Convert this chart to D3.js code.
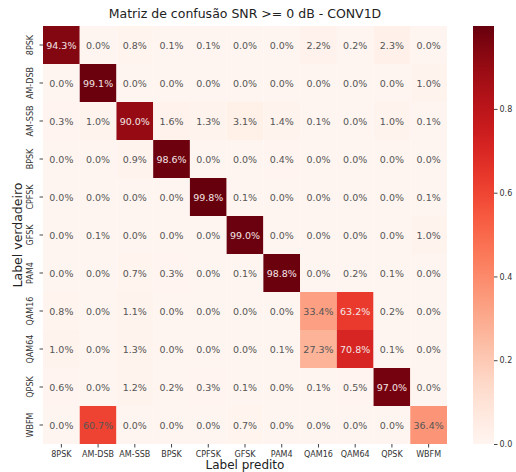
<!DOCTYPE html>
<html><head><meta charset="utf-8">
<script src="https://cdn.jsdelivr.net/npm/d3@7"></script>
<style>body{margin:0;background:#fff}svg{display:block;font-family:"DejaVu Sans",sans-serif}</style>
</head><body><div id="chart"></div>
<script>
const title = "Matriz de confusão SNR >= 0 dB - CONV1D";
const classes = ["8PSK","AM-DSB","AM-SSB","BPSK","CPFSK","GFSK","PAM4","QAM16","QAM64","QPSK","WBFM"];
const row8PSK  = [94.3,0.0,0.8,0.1,0.1,0.0,0.0,2.2,0.2,2.3,0.0];
const rowAMDSB = [0.0,99.1,0.0,0.0,0.0,0.0,0.0,0.0,0.0,0.0,1.0];
const rowAMSSB = [0.3,1.0,90.0,1.6,1.3,3.1,1.4,0.1,0.0,1.0,0.1];
const rowBPSK  = [0.0,0.0,0.9,98.6,0.0,0.0,0.4,0.0,0.0,0.0,0.0];
const rowCPFSK = [0.0,0.0,0.0,0.0,99.8,0.1,0.0,0.0,0.0,0.0,0.1];
const rowGFSK  = [0.0,0.1,0.0,0.0,0.0,99.0,0.0,0.0,0.0,0.0,1.0];
const rowPAM4  = [0.0,0.0,0.7,0.3,0.0,0.1,98.8,0.0,0.2,0.1,0.0];
const rowQAM16 = [0.8,0.0,1.1,0.0,0.0,0.0,0.0,33.4,63.2,0.2,0.0];
const rowQAM64 = [1.0,0.0,1.3,0.0,0.0,0.0,0.1,27.3,70.8,0.1,0.0];
const rowQPSK  = [0.6,0.0,1.2,0.2,0.3,0.1,0.0,0.1,0.5,97.0,0.0];
const rowWBFM  = [0.0,60.7,0.0,0.0,0.0,0.7,0.0,0.0,0.0,0.0,36.4];
const matrix = [row8PSK,rowAMDSB,rowAMSSB,rowBPSK,rowCPFSK,rowGFSK,rowPAM4,rowQAM16,rowQAM64,rowQPSK,rowWBFM];
const cbTicks = [0.0,0.2,0.4,0.6,0.8];
const xLabel = "Label predito", yLabel = "Label verdadeiro";

(function(){
const W = 516, H = 472;
const svg = d3.select("#chart").append("svg").attr("width", W).attr("height", H);
const mL = 43, mR = 447, mT = 26, mB = 444;
const x = d3.scaleBand().domain(classes).range([mL, mR]);
const y = d3.scaleBand().domain(classes).range([mT, mB]);
const vmax = d3.max(matrix.flat()) / 100;
const color = d3.scaleSequential(d3.interpolateReds).domain([0, vmax]);

const cells = [];
matrix.forEach((row, i) => row.forEach((v, j) => cells.push({r: classes[i], c: classes[j], v})));

svg.append("g").selectAll("rect").data(cells).join("rect")
  .attr("x", d => x(d.c)).attr("y", d => y(d.r))
  .attr("width", x.bandwidth()).attr("height", y.bandwidth())
  .attr("fill", d => color(d.v / 100));

svg.append("g").selectAll("text").data(cells).join("text")
  .attr("x", d => x(d.c) + x.bandwidth() / 2)
  .attr("y", d => y(d.r) + y.bandwidth() / 2)
  .attr("text-anchor", "middle").attr("dominant-baseline", "central")
  .attr("font-size", 9.5)
  .attr("fill", d => {
    const c = d3.rgb(color(d.v / 100));
    const lum = (0.299 * c.r + 0.587 * c.g + 0.114 * c.b) / 255;
    return lum < 0.45 ? "#f5e6e6" : "#555";
  })
  .text(d => d.v.toFixed(1) + "%");

const xAxis = svg.append("g").attr("transform", `translate(0,${mB})`)
  .call(d3.axisBottom(x).tickSize(3.5).tickPadding(4));
xAxis.select(".domain").remove();
xAxis.selectAll("line").attr("stroke", "#444");
xAxis.selectAll("text").attr("font-size", 8).attr("fill", "#333").attr("font-family", "DejaVu Sans");

const yAxis = svg.append("g").attr("transform", `translate(${mL},0)`)
  .call(d3.axisLeft(y).tickSize(3.5).tickPadding(0));
yAxis.select(".domain").remove();
yAxis.selectAll("line").attr("stroke", "#444");
yAxis.selectAll("text").attr("font-size", 8).attr("fill", "#333").attr("font-family", "DejaVu Sans")
  .attr("text-anchor", "middle").attr("dy", null)
  .attr("x", 0).attr("y", 0).attr("dominant-baseline", "central")
  .attr("transform", "translate(-13,0) rotate(-90)");

svg.append("text").attr("x", (mL + mR) / 2).attr("y", 18)
  .attr("text-anchor", "middle").attr("font-size", 12.5).attr("fill", "#222").text(title);
svg.append("text").attr("x", (mL + mR) / 2).attr("y", 469)
  .attr("text-anchor", "middle").attr("font-size", 12).attr("fill", "#222").text(xLabel);
svg.append("text").attr("transform", `translate(22,${(mT + mB) / 2}) rotate(-90)`)
  .attr("text-anchor", "middle").attr("font-size", 12.5).attr("fill", "#222").text(yLabel);

const cbX = 473, cbW = 21;
const cbScale = d3.scaleLinear().domain([0, vmax]).range([mB, mT]);
const defs = svg.append("defs");
const grad = defs.append("linearGradient").attr("id", "cb").attr("x1", 0).attr("y1", 1).attr("x2", 0).attr("y2", 0);
d3.range(0, 1.0001, 0.05).forEach(t => grad.append("stop").attr("offset", t).attr("stop-color", color(t * vmax)));
svg.append("rect").attr("x", cbX).attr("y", mT).attr("width", cbW).attr("height", mB - mT).attr("fill", "url(#cb)");
const cbAxis = svg.append("g").attr("transform", `translate(${cbX + cbW},0)`)
  .call(d3.axisRight(cbScale).tickValues(cbTicks).tickFormat(d3.format(".1f")).tickSize(3.5).tickPadding(2));
cbAxis.select(".domain").remove();
cbAxis.selectAll("line").attr("stroke", "#444");
cbAxis.selectAll("text").attr("font-size", 8).attr("fill", "#333").attr("font-family", "DejaVu Sans");
})();
</script></body></html>
